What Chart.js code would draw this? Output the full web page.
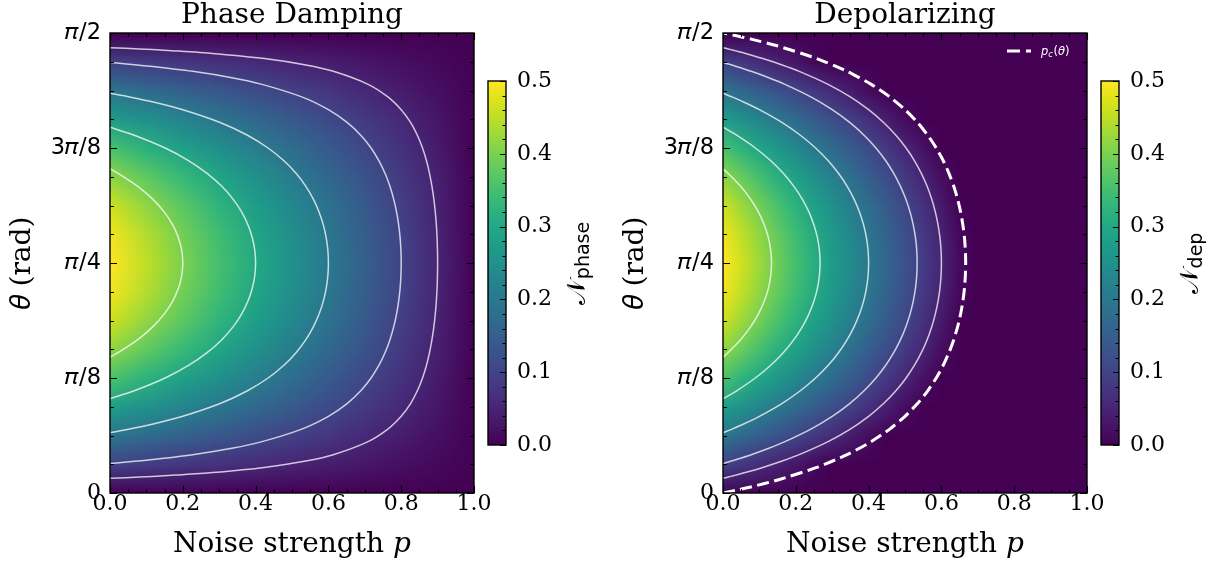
<!DOCTYPE html>
<html><head><meta charset="utf-8">
<script src="https://cdn.jsdelivr.net/npm/chart.js@4.4.1/dist/chart.umd.min.js"></script>
<style>
html,body{margin:0;padding:0;background:#fff}
#wrap{position:relative;width:1220px;height:572px;overflow:hidden;background:#fff}
#wrap canvas{position:absolute;top:0}
</style></head><body>
<div id="wrap">
<canvas id="main1" width="584" height="572" style="left:0px"></canvas>
<canvas id="main2" width="584" height="572" style="left:613px"></canvas>
<canvas id="cb1" width="130" height="572" style="left:480px"></canvas>
<canvas id="cb2" width="127" height="572" style="left:1093px"></canvas>
</div>
<script>
// ---------------- DATA ----------------
const TITLES = ['Phase Damping', 'Depolarizing'];
const X_LABEL = 'Noise strength 𝑝';
const Y_LABEL = '𝜃 (rad)';
const CB_SUBS = ['phase', 'dep'];
const Y_TICK_VALUES = [0, 0.3927, 0.7854, 1.1781, 1.5708];
const Y_TICK_LABELS = ['0', '𝜋/8', '𝜋/4', '3𝜋/8', '𝜋/2'];
const CB_TICKS = [0.0, 0.1, 0.2, 0.3, 0.4, 0.5];
const VMAX = 0.5;

// grid of theta (rows, bottom to top)
const THETA = [0,0.0982,0.1963,0.2945,0.3927,0.4909,0.5890,0.6872,0.7854,0.8836,0.9817,1.0799,1.1781,1.2763,1.3744,1.4726,1.5708];
// grid of p (columns)
const P_PHASE = [0,0.1,0.2,0.3,0.4,0.5,0.6,0.7,0.8,0.9,1.0];
const P_DEP = [0,0.05,0.1,0.15,0.2,0.25,0.3,0.35,0.4,0.45,0.5,0.55,0.6,0.65,0.7,0.75,0.8,0.85,0.9,0.95,1.0];

const N_PHASE = [
[0,0,0,0,0,0,0,0,0,0,0],
[0.098,0.088,0.078,0.068,0.059,0.049,0.039,0.029,0.020,0.010,0],
[0.191,0.172,0.153,0.134,0.115,0.096,0.077,0.057,0.038,0.019,0],
[0.278,0.250,0.222,0.194,0.167,0.139,0.111,0.083,0.056,0.028,0],
[0.354,0.318,0.283,0.247,0.212,0.177,0.141,0.106,0.071,0.035,0],
[0.416,0.374,0.333,0.291,0.249,0.208,0.166,0.125,0.083,0.042,0],
[0.462,0.416,0.370,0.323,0.277,0.231,0.185,0.139,0.092,0.046,0],
[0.490,0.441,0.392,0.343,0.294,0.245,0.196,0.147,0.098,0.049,0],
[0.500,0.450,0.400,0.350,0.300,0.250,0.200,0.150,0.100,0.050,0],
[0.490,0.441,0.392,0.343,0.294,0.245,0.196,0.147,0.098,0.049,0],
[0.462,0.416,0.370,0.323,0.277,0.231,0.185,0.139,0.092,0.046,0],
[0.416,0.374,0.333,0.291,0.249,0.208,0.166,0.125,0.083,0.042,0],
[0.354,0.318,0.283,0.247,0.212,0.177,0.141,0.106,0.071,0.035,0],
[0.278,0.250,0.222,0.194,0.167,0.139,0.111,0.083,0.056,0.028,0],
[0.191,0.172,0.153,0.134,0.115,0.096,0.077,0.057,0.038,0.019,0],
[0.098,0.088,0.078,0.068,0.059,0.049,0.039,0.029,0.020,0.010,0],
[0,0,0,0,0,0,0,0,0,0,0]
];

const N_DEP = [
[0,0,0,0,0,0,0,0,0,0,0,0,0,0,0,0,0,0,0,0,0],
[0.098,0.080,0.063,0.046,0.028,0.011,0,0,0,0,0,0,0,0,0,0,0,0,0,0,0],
[0.191,0.169,0.147,0.125,0.103,0.081,0.059,0.037,0.015,0,0,0,0,0,0,0,0,0,0,0,0],
[0.278,0.251,0.225,0.199,0.172,0.146,0.119,0.093,0.067,0.040,0.014,0,0,0,0,0,0,0,0,0,0],
[0.354,0.323,0.293,0.263,0.233,0.203,0.173,0.142,0.112,0.082,0.052,0.022,0,0,0,0,0,0,0,0,0],
[0.416,0.383,0.349,0.316,0.283,0.249,0.216,0.183,0.149,0.116,0.083,0.050,0.016,0,0,0,0,0,0,0,0],
[0.462,0.426,0.391,0.355,0.320,0.284,0.248,0.213,0.177,0.142,0.106,0.070,0.035,0,0,0,0,0,0,0,0],
[0.490,0.453,0.416,0.379,0.342,0.305,0.268,0.231,0.194,0.157,0.120,0.083,0.046,0.009,0,0,0,0,0,0,0],
[0.500,0.463,0.425,0.388,0.350,0.313,0.275,0.238,0.200,0.163,0.125,0.088,0.050,0.013,0,0,0,0,0,0,0],
[0.490,0.453,0.416,0.379,0.342,0.305,0.268,0.231,0.194,0.157,0.120,0.083,0.046,0.009,0,0,0,0,0,0,0],
[0.462,0.426,0.391,0.355,0.320,0.284,0.248,0.213,0.177,0.142,0.106,0.070,0.035,0,0,0,0,0,0,0,0],
[0.416,0.383,0.349,0.316,0.283,0.249,0.216,0.183,0.149,0.116,0.083,0.050,0.016,0,0,0,0,0,0,0,0],
[0.354,0.323,0.293,0.263,0.233,0.203,0.173,0.142,0.112,0.082,0.052,0.022,0,0,0,0,0,0,0,0,0],
[0.278,0.251,0.225,0.199,0.172,0.146,0.119,0.093,0.067,0.040,0.014,0,0,0,0,0,0,0,0,0,0],
[0.191,0.169,0.147,0.125,0.103,0.081,0.059,0.037,0.015,0,0,0,0,0,0,0,0,0,0,0,0],
[0.098,0.080,0.063,0.046,0.028,0.011,0,0,0,0,0,0,0,0,0,0,0,0,0,0,0],
[0,0,0,0,0,0,0,0,0,0,0,0,0,0,0,0,0,0,0,0,0]
];

// contour lines [p, theta] (levels 0.4, 0.3, 0.2, 0.1, 0.05)
const C_PH_40 = [[0,0.4636],[0.0234,0.4800],[0.0762,0.5236],[0.1173,0.5672],[0.1487,0.6109],[0.1718,0.6545],[0.1877,0.6981],[0.1969,0.7418],[0.2,0.7854],[0.1969,0.8290],[0.1877,0.8727],[0.1718,0.9163],[0.1487,0.9599],[0.1173,1.0036],[0.0762,1.0472],[0.0234,1.0908],[0,1.1072]];
const C_PH_30 = [[0,0.3218],[0.0666,0.3491],[0.1515,0.3927],[0.2167,0.4363],[0.2675,0.4800],[0.3072,0.5236],[0.3380,0.5672],[0.3615,0.6109],[0.3788,0.6545],[0.3907,0.6981],[0.3977,0.7418],[0.4,0.7854],[0.3977,0.8290],[0.3907,0.8727],[0.3788,0.9163],[0.3615,0.9599],[0.3380,1.0036],[0.3072,1.0472],[0.2675,1.0908],[0.2167,1.1345],[0.1515,1.1781],[0.0666,1.2217],[0,1.2490]];
const C_PH_20 = [[0,0.2058],[0.0535,0.2182],[0.1189,0.2356],[0.2,0.2618],[0.3026,0.3054],[0.3777,0.3491],[0.4343,0.3927],[0.4778,0.4363],[0.5117,0.4800],[0.5381,0.5236],[0.5586,0.5672],[0.5743,0.6109],[0.5859,0.6545],[0.5938,0.6981],[0.5985,0.7418],[0.6,0.7854],[0.5985,0.8290],[0.5938,0.8727],[0.5859,0.9163],[0.5743,0.9599],[0.5586,1.0036],[0.5381,1.0472],[0.5117,1.0908],[0.4778,1.1345],[0.4343,1.1781],[0.3777,1.2217],[0.3026,1.2654],[0.2,1.3090],[0.1189,1.3352],[0.0535,1.3526],[0,1.3650]];
const C_PH_10 = [[0,0.1007],[0.0381,0.1047],[0.1109,0.1134],[0.2273,0.1309],[0.3349,0.1527],[0.4152,0.1745],[0.5268,0.2182],[0.6,0.2618],[0.6513,0.3054],[0.6889,0.3491],[0.7172,0.3927],[0.7389,0.4363],[0.7558,0.4800],[0.7691,0.5236],[0.7793,0.5672],[0.7872,0.6109],[0.7929,0.6545],[0.7969,0.6981],[0.7992,0.7418],[0.8,0.7854],[0.7992,0.8290],[0.7969,0.8727],[0.7929,0.9163],[0.7872,0.9599],[0.7793,1.0036],[0.7691,1.0472],[0.7558,1.0908],[0.7389,1.1345],[0.7172,1.1781],[0.6889,1.2217],[0.6513,1.2654],[0.6,1.3090],[0.5268,1.3526],[0.4152,1.3963],[0.3349,1.4181],[0.2273,1.4399],[0.1109,1.4574],[0.0381,1.4661],[0,1.4701]];
const C_PH_05 = [[0,0.0501],[0.0433,0.0524],[0.1166,0.0567],[0.1795,0.0611],[0.2815,0.0698],[0.4241,0.0873],[0.5380,0.1091],[0.6136,0.1309],[0.7076,0.1745],[0.7634,0.2182],[0.8,0.2618],[0.8257,0.3054],[0.8444,0.3491],[0.8586,0.3927],[0.8695,0.4363],[0.8779,0.4800],[0.8845,0.5236],[0.8897,0.5672],[0.8936,0.6109],[0.8965,0.6545],[0.8985,0.6981],[0.8996,0.7418],[0.9,0.7854],[0.8996,0.8290],[0.8985,0.8727],[0.8965,0.9163],[0.8936,0.9599],[0.8897,1.0036],[0.8845,1.0472],[0.8779,1.0908],[0.8695,1.1345],[0.8586,1.1781],[0.8444,1.2217],[0.8257,1.2654],[0.8,1.3090],[0.7634,1.3526],[0.7076,1.3963],[0.6136,1.4399],[0.5380,1.4617],[0.4241,1.4835],[0.2815,1.5010],[0.1795,1.5097],[0.1166,1.5141],[0.0433,1.5184],[0,1.5207]];

const C_DP_40 = [[0,0.4636],[0.0145,0.4800],[0.0483,0.5236],[0.0756,0.5672],[0.0970,0.6109],[0.1132,0.6545],[0.1245,0.6981],[0.1311,0.7418],[0.1333,0.7854],[0.1311,0.8290],[0.1245,0.8727],[0.1132,0.9163],[0.0970,0.9599],[0.0756,1.0036],[0.0483,1.0472],[0.0145,1.0908],[0,1.1072]];
const C_DP_30 = [[0,0.3218],[0.0374,0.3491],[0.0887,0.3927],[0.1312,0.4363],[0.1661,0.4800],[0.1947,0.5236],[0.2178,0.5672],[0.2359,0.6109],[0.2496,0.6545],[0.2592,0.6981],[0.2648,0.7418],[0.2667,0.7854],[0.2648,0.8290],[0.2592,0.8727],[0.2496,0.9163],[0.2359,0.9599],[0.2178,1.0036],[0.1947,1.0472],[0.1661,1.0908],[0.1312,1.1345],[0.0887,1.1781],[0.0374,1.2217],[0,1.2490]];
const C_DP_20 = [[0,0.2058],[0.0245,0.2182],[0.0566,0.2356],[0.1,0.2618],[0.1617,0.3054],[0.2125,0.3491],[0.2544,0.3927],[0.2891,0.4363],[0.3177,0.4800],[0.3412,0.5236],[0.3600,0.5672],[0.3749,0.6109],[0.3861,0.6545],[0.3939,0.6981],[0.3985,0.7418],[0.4,0.7854],[0.3985,0.8290],[0.3939,0.8727],[0.3861,0.9163],[0.3749,0.9599],[0.3600,1.0036],[0.3412,1.0472],[0.3177,1.0908],[0.2891,1.1345],[0.2544,1.1781],[0.2125,1.2217],[0.1617,1.2654],[0.1,1.3090],[0.0566,1.3352],[0.0245,1.3526],[0,1.3650]];
const C_DP_10 = [[0,0.1007],[0.0112,0.1047],[0.0344,0.1134],[0.0775,0.1309],[0.1258,0.1527],[0.1687,0.1745],[0.2413,0.2182],[0.3,0.2618],[0.3480,0.3054],[0.3875,0.3491],[0.4201,0.3927],[0.4471,0.4363],[0.4694,0.4800],[0.4876,0.5236],[0.5022,0.5672],[0.5138,0.6109],[0.5225,0.6545],[0.5286,0.6981],[0.5322,0.7418],[0.5333,0.7854],[0.5322,0.8290],[0.5286,0.8727],[0.5225,0.9163],[0.5138,0.9599],[0.5022,1.0036],[0.4876,1.0472],[0.4694,1.0908],[0.4471,1.1345],[0.4201,1.1781],[0.3875,1.2217],[0.3480,1.2654],[0.3,1.3090],[0.2413,1.3526],[0.1687,1.3963],[0.1258,1.4181],[0.0775,1.4399],[0.0344,1.4574],[0.0112,1.4661],[0,1.4701]];
const C_DP_05 = [[0,0.0501],[0.0075,0.0524],[0.0215,0.0567],[0.0352,0.0611],[0.0613,0.0698],[0.1093,0.0873],[0.1625,0.1091],[0.2093,0.1309],[0.2874,0.1745],[0.3497,0.2182],[0.4,0.2618],[0.4411,0.3054],[0.4750,0.3491],[0.5030,0.3927],[0.5261,0.4363],[0.5452,0.4800],[0.5608,0.5236],[0.5733,0.5672],[0.5832,0.6109],[0.5907,0.6545],[0.5959,0.6981],[0.5990,0.7418],[0.6,0.7854],[0.5990,0.8290],[0.5959,0.8727],[0.5907,0.9163],[0.5832,0.9599],[0.5733,1.0036],[0.5608,1.0472],[0.5452,1.0908],[0.5261,1.1345],[0.5030,1.1781],[0.4750,1.2217],[0.4411,1.2654],[0.4,1.3090],[0.3497,1.3526],[0.2874,1.3963],[0.2093,1.4399],[0.1625,1.4617],[0.1093,1.4835],[0.0613,1.5010],[0.0352,1.5097],[0.0215,1.5141],[0.0075,1.5184],[0,1.5207]];

// critical noise p_c(theta)
const P_CRIT = [[0,0],[0.0337,0.0087],[0.0802,0.0218],[0.1484,0.0436],[0.2578,0.0873],[0.3411,0.1309],[0.4062,0.1745],[0.4581,0.2182],[0.5,0.2618],[0.5343,0.3054],[0.5625,0.3491],[0.5858,0.3927],[0.6051,0.4363],[0.6210,0.4800],[0.6340,0.5236],[0.6445,0.5672],[0.6527,0.6109],[0.6589,0.6545],[0.6633,0.6981],[0.6658,0.7418],[0.6667,0.7854],[0.6658,0.8290],[0.6633,0.8727],[0.6589,0.9163],[0.6527,0.9599],[0.6445,1.0036],[0.6340,1.0472],[0.6210,1.0908],[0.6051,1.1345],[0.5858,1.1781],[0.5625,1.2217],[0.5343,1.2654],[0.5,1.3090],[0.4581,1.3526],[0.4062,1.3963],[0.3411,1.4399],[0.2578,1.4835],[0.1484,1.5272],[0.0802,1.5490],[0.0337,1.5621],[0,1.5708]];

// ---------------- STYLE / RENDER ----------------
const SERIF = '"DejaVu Serif", serif';
const SANS = '"DejaVu Sans", sans-serif';
Chart.defaults.font.family = SERIF;
Chart.defaults.color = '#000';

const VIRIDIS = ['#440154','#471365','#482475','#463480','#414487','#3b528b','#355f8d','#2f6c8e','#2a788e','#25848e','#21918c','#1e9c89','#22a884','#2fb47c','#44bf70','#5ec962','#7ad151','#9bd93c','#bddf26','#dfe318','#fde725'];
const hexRgb = h => [parseInt(h.slice(1,3),16), parseInt(h.slice(3,5),16), parseInt(h.slice(5,7),16)];
const VIR_RGB = VIRIDIS.map(hexRgb);
function viridis(t){
  t = Math.max(0, Math.min(1, t));
  const f = t * (VIR_RGB.length - 1);
  const i = Math.min(VIR_RGB.length - 2, Math.floor(f));
  const u = f - i, a = VIR_RGB[i], b = VIR_RGB[i+1];
  return [a[0]+(b[0]-a[0])*u, a[1]+(b[1]-a[1])*u, a[2]+(b[2]-a[2])*u];
}
function heatImage(values){
  const rows = values.length, cols = values[0].length;
  const c = document.createElement('canvas'); c.width = cols; c.height = rows;
  const g = c.getContext('2d'); const img = g.createImageData(cols, rows);
  for (let j = 0; j < rows; j++) for (let i = 0; i < cols; i++) {
    const col = viridis(values[j][i] / VMAX);
    const k = ((rows - 1 - j) * cols + i) * 4;
    img.data[k] = col[0]; img.data[k+1] = col[1]; img.data[k+2] = col[2]; img.data[k+3] = 255;
  }
  g.putImageData(img, 0, 0);
  return c;
}
const toXY = arr => arr.map(d => ({x: d[0], y: d[1]}));
function contourDS(arr){
  return {data: toXY(arr), showLine: true, pointRadius: 0, borderColor: 'rgba(255,255,255,0.75)', borderWidth: 1.5, tension: 0.25, fill: false};
}

function buildMain(id, title, values, pGrid, contours, extra, legend){
  const img = heatImage(values);
  const heat = {
    id: 'heat',
    beforeDatasetsDraw(chart){
      const {ctx, chartArea: a, scales: {x, y}} = chart;
      const dp = pGrid[1] - pGrid[0], dt = THETA[1] - THETA[0];
      const x0 = x.getPixelForValue(pGrid[0] - dp/2), x1 = x.getPixelForValue(pGrid[pGrid.length-1] + dp/2);
      const yT = y.getPixelForValue(THETA[THETA.length-1] + dt/2), yB = y.getPixelForValue(THETA[0] - dt/2);
      ctx.save();
      ctx.beginPath(); ctx.rect(a.left, a.top, a.right - a.left, a.bottom - a.top); ctx.clip();
      ctx.imageSmoothingEnabled = true;
      ctx.drawImage(img, x0, yT, x1 - x0, yB - yT);
      ctx.restore();
    }
  };
  const frame = {
    id: 'frame',
    afterDatasetsDraw(chart){
      const {ctx, chartArea: a, scales: {x, y}} = chart;
      ctx.save();
      ctx.strokeStyle = '#000'; ctx.lineWidth = 1.1; ctx.beginPath();
      for (let k = 0; k <= 20; k++) {
        const px = Math.round(x.getPixelForValue(k * 0.05)) + 0.5, L = (k % 4 === 0) ? 7 : 4;
        ctx.moveTo(px, a.bottom); ctx.lineTo(px, a.bottom - L);
        ctx.moveTo(px, a.top); ctx.lineTo(px, a.top + L);
      }
      for (let k = 0; k <= 16; k++) {
        const py = Math.round(y.getPixelForValue(k * Math.PI / 32)) + 0.5, L = (k % 4 === 0) ? 7 : 4;
        ctx.moveTo(a.left, py); ctx.lineTo(a.left + L, py);
        ctx.moveTo(a.right, py); ctx.lineTo(a.right - L, py);
      }
      ctx.stroke();
      ctx.lineWidth = 1.4;
      ctx.strokeRect(a.left, a.top, a.right - a.left, a.bottom - a.top);
      if (legend) {
        const ly = a.top + 18;
        ctx.strokeStyle = '#fff'; ctx.lineWidth = 3; ctx.setLineDash([13, 6]);
        ctx.beginPath(); ctx.moveTo(a.right - 80, ly); ctx.lineTo(a.right - 56, ly); ctx.stroke();
        ctx.setLineDash([]);
        ctx.fillStyle = '#fff'; ctx.textBaseline = 'alphabetic';
        let tx = a.right - 46; const by = ly + 4;
        ctx.font = 'italic 11.5px ' + SANS; ctx.fillText('p', tx, by); tx += ctx.measureText('p').width;
        ctx.font = 'italic 8.5px ' + SANS; ctx.fillText('c', tx, by + 2); tx += ctx.measureText('c').width + 0.5;
        ctx.font = '11.5px ' + SANS; ctx.fillText('(', tx, by); tx += ctx.measureText('(').width;
        ctx.font = 'italic 11.5px ' + SANS; ctx.fillText('θ', tx, by); tx += ctx.measureText('θ').width;
        ctx.font = '11.5px ' + SANS; ctx.fillText(')', tx, by);
      }
      ctx.restore();
    }
  };
  const datasets = contours.map(contourDS);
  if (extra) datasets.push({data: toXY(extra), showLine: true, pointRadius: 0, borderColor: '#fff', borderWidth: 3, borderDash: [12, 5.5], tension: 0.2, fill: false});
  return new Chart(document.getElementById(id), {
    type: 'scatter',
    data: {datasets},
    options: {
      responsive: false, animation: false, devicePixelRatio: 1,
      layout: {padding: 0},
      plugins: {
        legend: {display: false}, tooltip: {enabled: false},
        title: {display: true, text: title, color: '#000', font: {family: SERIF, size: 28, weight: 'normal', lineHeight: '26px'}, padding: {top: 3, bottom: 4}}
      },
      scales: {
        x: {
          type: 'linear', min: 0, max: 1,
          grid: {display: false, drawTicks: false}, border: {display: false},
          ticks: {stepSize: 0.2, autoSkip: false, maxRotation: 0, padding: -2, color: '#000', font: {family: SERIF, size: 22}, callback: v => Number(v).toFixed(1)},
          title: {display: true, text: X_LABEL, color: '#000', font: {family: SERIF, size: 28}, padding: {top: 0, bottom: 10}},
          afterFit: s => { s.height = 79; }
        },
        y: {
          type: 'linear', min: 0, max: 1.5708,
          afterBuildTicks: s => { s.ticks = Y_TICK_VALUES.map(v => ({value: v})); },
          grid: {display: false, drawTicks: false}, border: {display: false},
          ticks: {padding: 9, color: '#000', autoSkip: false,
            font: c => (c.index === 0 ? {family: SERIF, size: 22} : {family: SANS, size: 22.5}),
            callback: (v, i) => Y_TICK_LABELS[i]},
          title: {display: true, text: Y_LABEL, color: '#000', font: {family: SERIF, size: 28}, padding: {top: 5.5, bottom: 0}},
          afterFit: s => { s.width = 110; }
        },
        yR: {
          type: 'linear', position: 'right', min: 0, max: 1.5708,
          grid: {display: false, drawTicks: false}, border: {display: false},
          ticks: {display: false},
          afterFit: s => { s.width = 110; }
        }
      }
    },
    plugins: [heat, frame]
  });
}

function buildCB(id, sub, axisW, labelX){
  const cbPlug = {
    id: 'cbdeco',
    afterDatasetsDraw(chart){
      const {ctx, chartArea: a, scales: {y}} = chart;
      ctx.save();
      ctx.strokeStyle = '#000'; ctx.lineWidth = 1.1; ctx.beginPath();
      for (let k = 0; k <= 25; k++) {
        const py = Math.round(y.getPixelForValue(k * 0.02)) + 0.5, L = (k % 5 === 0) ? 6 : 3.5;
        ctx.moveTo(a.right, py); ctx.lineTo(a.right - L, py);
      }
      ctx.stroke();
      ctx.lineWidth = 1.4;
      ctx.strokeRect(a.left, a.top, a.right - a.left, a.bottom - a.top);
      // colour bar label
      ctx.translate(labelX, (a.top + a.bottom) / 2 + 1);
      ctx.rotate(-Math.PI / 2);
      ctx.fillStyle = '#000'; ctx.textBaseline = 'alphabetic';
      ctx.font = '26px ' + SANS; const w1 = ctx.measureText('𝒩').width;
      ctx.font = '19px ' + SANS; const w2 = ctx.measureText(sub).width;
      const x0 = -(w1 + w2) / 2;
      ctx.font = '26px ' + SANS; ctx.fillText('𝒩', x0, 0);
      ctx.font = '19px ' + SANS; ctx.fillText(sub, x0 + w1 + 1, 4);
      ctx.restore();
    }
  };
  return new Chart(document.getElementById(id), {
    type: 'bar',
    data: {labels: ['cb'], datasets: [{
      data: [[0, VMAX]], borderWidth: 0, barPercentage: 1, categoryPercentage: 1,
      backgroundColor: c => {
        const a = c.chart.chartArea; if (!a) return VIRIDIS[0];
        const g = c.chart.ctx.createLinearGradient(0, a.bottom, 0, a.top);
        VIRIDIS.forEach((h, i) => g.addColorStop(i / (VIRIDIS.length - 1), h));
        return g;
      }
    }]},
    options: {
      responsive: false, animation: false, devicePixelRatio: 1,
      layout: {padding: {left: 8, top: 81, bottom: 127, right: 0}},
      plugins: {legend: {display: false}, tooltip: {enabled: false}},
      scales: {
        x: {display: false},
        y: {position: 'right', min: 0, max: VMAX,
          afterBuildTicks: s => { s.ticks = CB_TICKS.map(v => ({value: v})); },
          grid: {display: false, drawTicks: false}, border: {display: false},
          ticks: {padding: 11, color: '#000', font: {family: SERIF, size: 22}, callback: v => Number(v).toFixed(1)},
          afterFit: s => { s.width = axisW; }
        }
      }
    },
    plugins: [cbPlug]
  });
}

buildMain('main1', TITLES[0], N_PHASE, P_PHASE, [C_PH_40, C_PH_30, C_PH_20, C_PH_10, C_PH_05], null, false);
buildMain('main2', TITLES[1], N_DEP, P_DEP, [C_DP_40, C_DP_30, C_DP_20, C_DP_10, C_DP_05], P_CRIT, true);
buildCB('cb1', CB_SUBS[0], 104, 105);
buildCB('cb2', CB_SUBS[1], 101, 105);
</script>
</body></html>
